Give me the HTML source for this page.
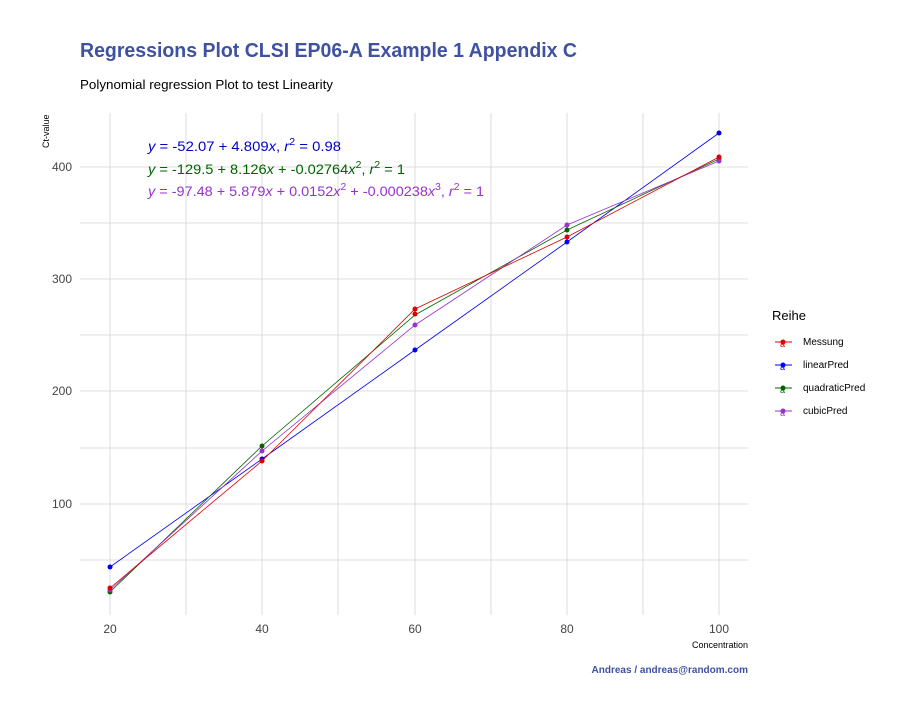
<!DOCTYPE html>
<html><head><style>
body{margin:0;background:#fff;}
svg text{font-family:"Liberation Sans",Arial,sans-serif;}
</style></head><body>
<svg width="908" height="715" xmlns="http://www.w3.org/2000/svg">
<rect width="908" height="715" fill="#fff"/>
<text x="80" y="57" font-size="20" font-weight="bold" fill="#3f51a3" textLength="497" lengthAdjust="spacingAndGlyphs">Regressions Plot CLSI EP06-A Example 1 Appendix C</text>
<text x="80" y="89" font-size="13" fill="#000" textLength="253" lengthAdjust="spacingAndGlyphs">Polynomial regression Plot to test Linearity</text>
<g stroke="#d4d4d4" stroke-width="0.8">
<line x1="80" x2="748" y1="560" y2="560"/><line x1="80" x2="748" y1="448" y2="448"/><line x1="80" x2="748" y1="335" y2="335"/><line x1="80" x2="748" y1="223" y2="223"/><line x1="80" x2="748" y1="504" y2="504"/><line x1="80" x2="748" y1="391" y2="391"/><line x1="80" x2="748" y1="279" y2="279"/><line x1="80" x2="748" y1="167" y2="167"/>
<line y1="113" y2="615" x1="110" x2="110"/><line y1="113" y2="615" x1="186" x2="186"/><line y1="113" y2="615" x1="262" x2="262"/><line y1="113" y2="615" x1="338" x2="338"/><line y1="113" y2="615" x1="415" x2="415"/><line y1="113" y2="615" x1="491" x2="491"/><line y1="113" y2="615" x1="567" x2="567"/><line y1="113" y2="615" x1="643" x2="643"/><line y1="113" y2="615" x1="719" x2="719"/>
</g>
<g font-size="12" fill="#444" text-anchor="end">
<text x="72" y="508">100</text><text x="72" y="395">200</text><text x="72" y="283">300</text><text x="72" y="171">400</text>
</g>
<g font-size="12" fill="#444" text-anchor="middle">
<text x="110" y="633">20</text><text x="262" y="633">40</text><text x="415" y="633">60</text><text x="567" y="633">80</text><text x="719" y="633">100</text>
</g>
<text x="748" y="648" font-size="9" text-anchor="end">Concentration</text>
<text x="49" y="148" font-size="9" transform="rotate(-90 49 148)" text-anchor="start">Ct-value</text>
<text x="748" y="673" font-size="10" font-weight="bold" fill="#3f51a3" text-anchor="end">Andreas / andreas@random.com</text>
<polyline fill="none" stroke="#0000ee" stroke-width="0.8" points="110,567 262,459 415,350 567,242 719,133"/>
<g fill="#0000ee"><circle cx="110" cy="567" r="2.5"/><circle cx="262" cy="459" r="2.5"/><circle cx="415" cy="350" r="2.5"/><circle cx="567" cy="242" r="2.5"/><circle cx="719" cy="133" r="2.5"/></g>
<polyline fill="none" stroke="#006400" stroke-width="0.8" points="110,592 262,446 415,315 567,230 719,159"/>
<g fill="#006400"><circle cx="110" cy="592" r="2.5"/><circle cx="262" cy="446" r="2.5"/><circle cx="567" cy="230" r="2.5"/><circle cx="719" cy="159" r="2.5"/></g>
<polyline fill="none" stroke="#9932cc" stroke-width="0.8" points="110,590 262,451 415,325 567,225 719,161"/>
<g fill="#9932cc"><circle cx="110" cy="590" r="2.5"/><circle cx="262" cy="451" r="2.5"/><circle cx="415" cy="325" r="2.5"/><circle cx="567" cy="225" r="2.5"/><circle cx="719" cy="161" r="2.5"/></g>
<polyline fill="none" stroke="#dd0000" stroke-width="0.8" points="110,588 262,461 415,309 567,237 719,157"/>
<g fill="#dd0000"><circle cx="110" cy="588" r="2.5"/><circle cx="262" cy="461" r="2.5"/><circle cx="415" cy="309" r="2.5"/><circle cx="415" cy="314" r="2.5"/><circle cx="567" cy="237" r="2.5"/><circle cx="719" cy="157" r="2.5"/></g>
<text x="148" y="151" font-size="14" fill="#0000cc" textLength="193" lengthAdjust="spacingAndGlyphs"><tspan font-style="italic">y</tspan> = -52.07 + 4.809<tspan font-style="italic">x</tspan>,  <tspan font-style="italic">r</tspan><tspan dy="-6" font-size="10">2</tspan><tspan dy="6"> = 0.98</tspan></text>
<text x="148" y="174" font-size="14" fill="#006400" textLength="257" lengthAdjust="spacingAndGlyphs"><tspan font-style="italic">y</tspan> = -129.5 + 8.126<tspan font-style="italic">x</tspan> + -0.02764<tspan font-style="italic">x</tspan><tspan dy="-6" font-size="10">2</tspan><tspan dy="6">,  </tspan><tspan font-style="italic">r</tspan><tspan dy="-6" font-size="10">2</tspan><tspan dy="6"> = 1</tspan></text>
<text x="148" y="196" font-size="14" fill="#9932cc" textLength="336" lengthAdjust="spacingAndGlyphs"><tspan font-style="italic">y</tspan> = -97.48 + 5.879<tspan font-style="italic">x</tspan> + 0.0152<tspan font-style="italic">x</tspan><tspan dy="-6" font-size="10">2</tspan><tspan dy="6"> + -0.000238</tspan><tspan font-style="italic">x</tspan><tspan dy="-6" font-size="10">3</tspan><tspan dy="6">,  </tspan><tspan font-style="italic">r</tspan><tspan dy="-6" font-size="10">2</tspan><tspan dy="6"> = 1</tspan></text>
<text x="772" y="320" font-size="13">Reihe</text>
<g font-size="10">
<line x1="775" x2="792" y1="342" y2="342" stroke="#dd0000"/><circle cx="783" cy="342" r="2.5" fill="#dd0000"/><text x="780" y="347" fill="#dd0000" font-size="9">a</text><text x="803" y="345">Messung</text>
<line x1="775" x2="792" y1="365" y2="365" stroke="#0000ee"/><circle cx="783" cy="365" r="2.5" fill="#0000ee"/><text x="780" y="370" fill="#0000ee" font-size="9">a</text><text x="803" y="368">linearPred</text>
<line x1="775" x2="792" y1="388" y2="388" stroke="#006400"/><circle cx="783" cy="388" r="2.5" fill="#006400"/><text x="780" y="393" fill="#006400" font-size="9">a</text><text x="803" y="391">quadraticPred</text>
<line x1="775" x2="792" y1="411" y2="411" stroke="#9932cc"/><circle cx="783" cy="411" r="2.5" fill="#9932cc"/><text x="780" y="416" fill="#9932cc" font-size="9">a</text><text x="803" y="414">cubicPred</text>
</g>
</svg>
</body></html>
